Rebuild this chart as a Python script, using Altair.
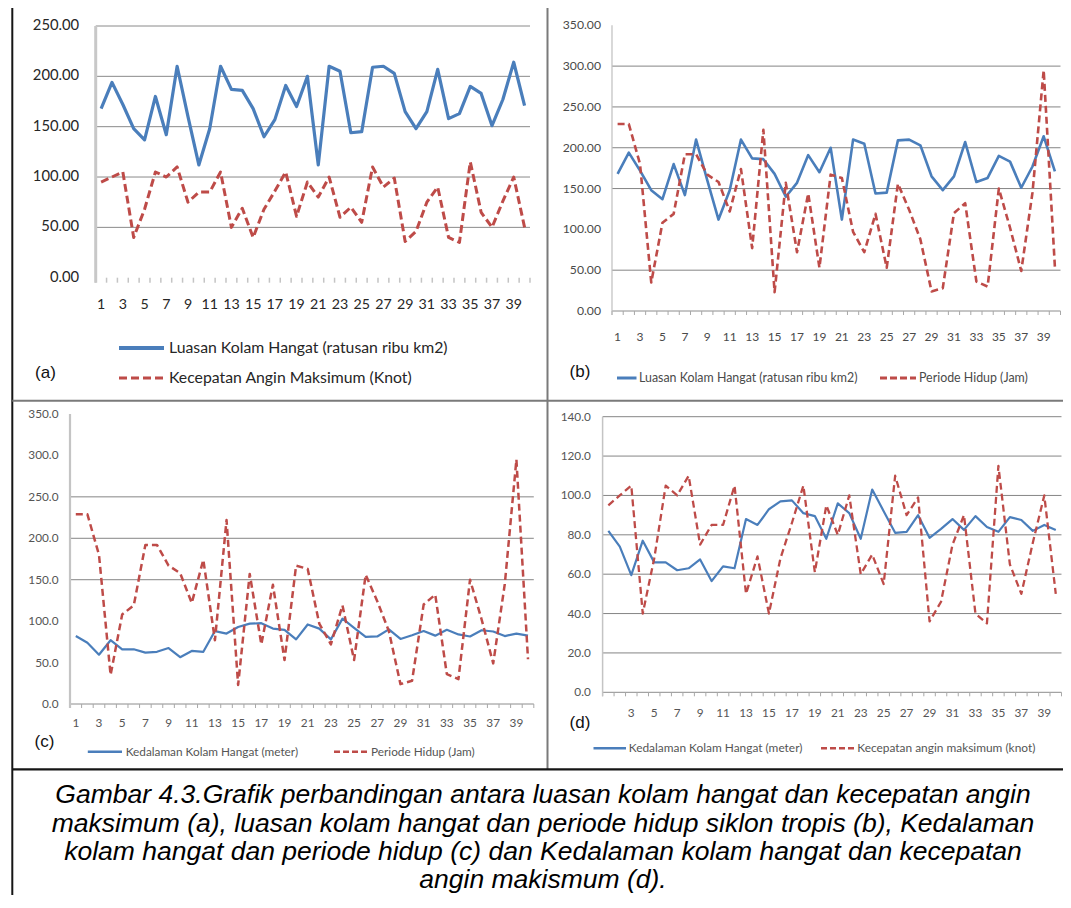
import altair as alt
import pandas as pd

# ---------------- data ----------------
idx = list(range(1, 41))

luasan = [168, 194, 172, 148, 137, 180, 142, 210, 160, 112,
          148, 210, 187, 186, 168, 140, 157, 191, 170, 200,
          112, 210, 205, 144, 145, 209, 210, 203, 165, 148,
          165, 207, 158, 163, 190, 183, 151, 177, 214, 171]

kecepatan = [95, 100, 105, 40, 68, 105, 100, 110, 75, 85,
             85, 105, 50, 69, 40, 68, 86, 105, 61, 95,
             80, 100, 60, 70, 55, 110, 90, 99, 36, 46,
             75, 90, 40, 35, 115, 65, 50, 76, 100, 50]

periode = [229, 229, 180, 35, 108, 119, 192, 192, 167, 158,
           122, 174, 77, 222, 23, 157, 72, 144, 53, 167,
           163, 97, 72, 119, 53, 156, 124, 88, 24, 28,
           120, 132, 36, 30, 150, 102, 49, 145, 295, 54]

kedalaman = [82, 74, 59.5, 77, 66, 66, 62, 63, 67.5, 56.5,
             64, 63, 88, 85, 93, 97, 97.5, 91, 89.5, 78,
             96, 91, 78, 103, 92, 81, 81.5, 90, 78.5, 83,
             88, 82.5, 89.5, 84, 81.5, 89, 87.5, 82, 85, 82.5]

yticks_a = [0, 50, 100, 150, 200, 250]
yticks_b = [0, 50, 100, 150, 200, 250, 300, 350]
yticks_c = [0, 50, 100, 150, 200, 250, 300, 350]
yticks_d = [0, 20, 40, 60, 80, 100, 120, 140]
grid_a = [50, 100, 150, 200, 250]
grid_b = [50, 150, 200, 250, 300]
grid_c = [150, 200, 250]
grid_d = [20, 40, 60, 80, 100, 120, 140]
xlabels_abc = list(range(1, 40, 2))
xlabels_d = list(range(3, 40, 2))

name_luasan = "Luasan Kolam Hangat (ratusan ribu km2)"
name_kec_a = "Kecepatan Angin Maksimum (Knot)"
name_periode = "Periode Hidup (Jam)"
name_kedalaman = "Kedalaman Kolam Hangat (meter)"
name_kec_d = "Kecepatan angin maksimum (knot)"

caption_lines = [
    "Gambar 4.3.Grafik perbandingan antara luasan kolam hangat dan kecepatan angin",
    "maksimum (a), luasan kolam hangat dan periode hidup siklon tropis (b), Kedalaman",
    "kolam hangat dan periode hidup (c) dan Kedalaman kolam hangat dan kecepatan",
    "angin makismum (d).",
]

# ---------------- styling ----------------
BLUE = "#4A7EBB"
RED = "#BE4B48"
FONT = "Lato"
one = pd.DataFrame({"k": [0]})


def panel(p):
    xs = alt.Scale(domain=[0.5, 40.5], range=[p["x0"], p["x1"]], nice=False, zero=False)
    ys = alt.Scale(domain=[0, p["ymax"]], range=[p["y0"], p["y1"]], nice=False)

    def X(f):
        return alt.X(f, scale=xs, axis=None)

    def Y(f):
        return alt.Y(f, scale=ys, axis=None)

    layers = []
    gdf = pd.DataFrame({"g": p["grid"], "a": 0.5, "b": 40.5})
    layers.append(alt.Chart(gdf).mark_rule(color=p["gridc"], strokeWidth=1).encode(
        x=X("a:Q"), x2="b:Q", y=Y("g:Q")))
    if p["baseline"]:
        bdf = pd.DataFrame({"a": [0.5], "b": [40.5], "z": [0]})
        layers.append(alt.Chart(bdf).mark_rule(color=p["basec"], strokeWidth=1).encode(
            x=X("a:Q"), x2="b:Q", y=Y("z:Q")))
    tdf = pd.DataFrame({"t": [0.5 + k for k in range(41)], "z": 0})
    layers.append(alt.Chart(tdf).mark_rule(color=p["tickc"], strokeWidth=p["tickw"],
                                           y2Offset=p["tickl"]).encode(
        x=X("t:Q"), y=Y("z:Q"), y2="z:Q"))
    adf = pd.DataFrame({"a": [0.5], "z": [0], "top": [p["ymax"]]})
    layers.append(alt.Chart(adf).mark_rule(color=p["axisc"], strokeWidth=p["axisw"],
                                           yOffset=p["tickl"]).encode(
        x=X("a:Q"), y=Y("z:Q"), y2="top:Q"))
    ydf = pd.DataFrame({"v": p["yticks"], "a": 0.5,
                        "lab": [p["fmt"].format(v) for v in p["yticks"]]})
    layers.append(alt.Chart(ydf).mark_text(align="right", baseline="middle", dx=-p["ygap"],
                                           font=FONT, fontSize=p["yfs"], color=p["txtc"]).encode(
        x=X("a:Q"), y=Y("v:Q"), text="lab:N"))
    xdf = pd.DataFrame({"i": p["xlabels"], "z": 0, "lab": [str(v) for v in p["xlabels"]]})
    layers.append(alt.Chart(xdf).mark_text(align="center", baseline="middle", dy=p["xdy"],
                                           font=FONT, fontSize=p["xfs"], color=p["txtc"]).encode(
        x=X("i:Q"), y=Y("z:Q"), text="lab:N"))
    for vals, color, width, dash in p["series"]:
        sdf = pd.DataFrame({"i": idx, "v": vals})
        kw = dict(color=color, strokeWidth=width, strokeJoin="round")
        if dash:
            kw["strokeDash"] = dash
        layers.append(alt.Chart(sdf).mark_line(**kw).encode(x=X("i:Q"), y=Y("v:Q")))
    return alt.layer(*layers)


OX, OY = 8, 11  # page offsets of the chart origin


def hx(v):
    return v - OX


def vy(v):
    return v - OY


pa = panel(dict(x0=hx(95.7), x1=hx(530), y0=vy(277.7), y1=vy(26), ymax=250,
                grid=grid_a, gridc="#8A8A8A", baseline=False, basec="#8A8A8A",
                tickc="#C4C4C4", tickw=1.5, tickl=5, axisc="#C8C8C8", axisw=3,
                yticks=yticks_a, fmt="{:.2f}", ygap=16.5, yfs=14.8, xfs=14.2, txtc="#262626",
                xlabels=xlabels_abc, xdy=27.3,
                series=[(luasan, BLUE, 3.2, None), (kecepatan, RED, 3, [8, 4])]))
pb = panel(dict(x0=hx(612), x1=hx(1060.5), y0=vy(311), y1=vy(25.3), ymax=350,
                grid=grid_b, gridc="#858585", baseline=True, basec="#8C8C8C",
                tickc="#A8A8A8", tickw=1, tickl=4, axisc="#BFBFBF", axisw=1.2,
                yticks=yticks_b, fmt="{:.2f}", ygap=11, yfs=12.2, xfs=12, txtc="#4A4A4A",
                xlabels=xlabels_abc, xdy=25.7,
                series=[(luasan, BLUE, 2.6, None), (periode, RED, 2.6, [7, 4])]))
pc = panel(dict(x0=hx(70), x1=hx(533.8), y0=vy(704), y1=vy(414), ymax=350,
                grid=grid_c, gridc="#858585", baseline=True, basec="#8C8C8C",
                tickc="#A8A8A8", tickw=1, tickl=4, axisc="#C4C4C4", axisw=2.2,
                yticks=yticks_c, fmt="{:.1f}", ygap=11.5, yfs=11.8, xfs=11.8, txtc="#555555",
                xlabels=xlabels_abc, xdy=18.7,
                series=[(kedalaman, BLUE, 2.2, None), (periode, RED, 2.5, [7, 4])]))
pd_ = panel(dict(x0=hx(602.6), x1=hx(1061.5), y0=vy(692.3), y1=vy(416.7), ymax=140,
                 grid=grid_d, gridc="#858585", baseline=True, basec="#8C8C8C",
                 tickc="#A8A8A8", tickw=1, tickl=4, axisc="#C4C4C4", axisw=1.5,
                 yticks=yticks_d, fmt="{:.1f}", ygap=11.8, yfs=11.8, xfs=11.8, txtc="#555555",
                 xlabels=xlabels_d, xdy=21,
                 series=[(kedalaman, BLUE, 2.2, None), (kecepatan, RED, 2.3, [7, 4])]))


# ---------------- decorations: frame, legends, panel tags, caption ----------------
def hline(x1, x2, y, color, w, dash=None):
    kw = dict(color=color, strokeWidth=w)
    if dash:
        kw["strokeDash"] = dash
    return alt.Chart(one).mark_rule(**kw).encode(
        x=alt.value(x1), x2=alt.value(x2), y=alt.value(y))


def vline(x, y1, y2, color, w):
    return alt.Chart(one).mark_rule(color=color, strokeWidth=w).encode(
        x=alt.value(x), y=alt.value(y1), y2=alt.value(y2))


def label(x, y, text, size, color, font=FONT, align="left", style=None):
    kw = dict(text=text, fontSize=size, color=color, font=font, align=align, baseline="middle")
    if style:
        kw["fontStyle"] = style
    return alt.Chart(one).mark_text(**kw).encode(x=alt.value(x), y=alt.value(y))


W, H = 1055, 884
decor = []
# frame
decor.append(hline(hx(12), W, vy(6.7), "#151515", 2))
decor.append(vline(hx(12.3), vy(5), H, "#151515", 2))
decor.append(vline(hx(547.5), vy(7), vy(769.3), "#7A7A7A", 2))
decor.append(hline(hx(12.3), W, vy(400.7), "#7A7A7A", 2))
decor.append(hline(hx(12.3), W, vy(769.3), "#151515", 2.2))

# legend (a)
decor.append(hline(hx(119), hx(164), vy(348), BLUE, 4))
decor.append(label(hx(169), vy(348), name_luasan, 15.8, "#262626"))
decor.append(hline(hx(119), hx(164), vy(378), RED, 3, [8, 4]))
decor.append(label(hx(169), vy(378), name_kec_a, 15.8, "#262626"))
# legend (b)
decor.append(hline(hx(617), hx(636.5), vy(378), BLUE, 3))
decor.append(label(hx(639), vy(378), name_luasan, 12.4, "#4A4A4A"))
decor.append(hline(hx(880), hx(916), vy(378), RED, 3, [7, 3]))
decor.append(label(hx(919), vy(378), name_periode, 12.4, "#4A4A4A"))
# legend (c)
decor.append(hline(hx(87.8), hx(122), vy(751.7), BLUE, 2.5))
decor.append(label(hx(125.7), vy(751.7), name_kedalaman, 11.8, "#555555"))
decor.append(hline(hx(334), hx(368.5), vy(751.7), RED, 2.5, [6, 3]))
decor.append(label(hx(371), vy(751.7), name_periode, 11.8, "#555555"))
# legend (d)
decor.append(hline(hx(593.5), hx(626), vy(748.3), BLUE, 2.5))
decor.append(label(hx(628.7), vy(748.3), name_kedalaman, 11.9, "#555555"))
decor.append(hline(hx(821), hx(856.6), vy(748.3), RED, 2.5, [6, 3]))
decor.append(label(hx(857.3), vy(748.3), name_kec_d, 11.9, "#555555"))

# panel tags
decor.append(label(hx(45.5), vy(373), "(a)", 17, "#111111", font="Liberation Sans", align="center"))
decor.append(label(hx(580), vy(372), "(b)", 17, "#111111", font="Liberation Sans", align="center"))
decor.append(label(hx(44.5), vy(741.7), "(c)", 17, "#111111", font="Liberation Sans", align="center"))
decor.append(label(hx(580), vy(723), "(d)", 17, "#111111", font="Liberation Sans", align="center"))

# caption
decor.append(alt.Chart(one).mark_text(
    text=caption_lines, font="Liberation Sans", fontStyle="italic", fontSize=26.5,
    lineHeight=28.3, align="center", baseline="alphabetic", color="#000000"
).encode(x=alt.value(hx(543)), y=alt.value(vy(803.3))))

chart = alt.layer(pa, pb, pc, pd_, *decor).resolve_scale(
    x="independent", y="independent"
).properties(
    width=W, height=H,
    padding={"left": 0, "top": 3, "right": 0, "bottom": 0},
    autosize=alt.AutoSizeParams(type="none"),
).configure_view(strokeWidth=0)

chart.save("out.html", embed_options={"renderer": "svg", "actions": False})
